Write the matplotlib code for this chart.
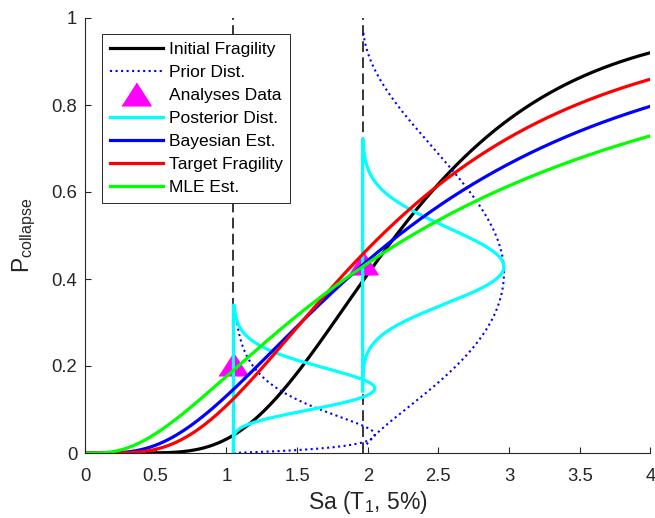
import math
import numpy as np
import matplotlib
matplotlib.use('Agg')
import matplotlib.pyplot as plt

plt.rcParams['font.family'] = ['Liberation Sans', 'DejaVu Sans']

# lognormal fragility curves (median Sa, dispersion)
frag_names = ['Initial Fragility', 'Bayesian Est.', 'Target Fragility', 'MLE Est.']
frag_median = [2.20, 2.217, 2.096, 2.31]
frag_beta = [0.425, 0.71, 0.60, 0.90]

# IM levels where analyses were run, and observed collapse fractions
im_levels = [1.05, 1.964]
data_frac = [0.205, 0.437]

# prior distribution of P at each IM level (mode, probit spread below/above, plotted range)
prior_mode = [0.043, 0.415]
prior_sd_lo = [0.60, 0.69]
prior_sd_hi = [0.44, 0.63]
prior_lo = [0.0, 0.02]
prior_hi = [0.30, 0.972]

# posterior distribution of P at each IM level
post_mode = [0.149, 0.428]
post_sd_lo = [0.22, 0.215]
post_sd_hi = [0.195, 0.225]
post_lo = [0.0, 0.143]
post_hi = [0.34, 0.722]

xticks = [0, 0.5, 1, 1.5, 2, 2.5, 3, 3.5, 4]
xticklabels = ['0', '0.5', '1', '1.5', '2', '2.5', '3', '3.5', '4']
yticks = [0, 0.2, 0.4, 0.6, 0.8, 1]
yticklabels = ['0', '0.2', '0.4', '0.6', '0.8', '1']

# standard normal cdf table, used both ways
ZG = np.linspace(-8, 8, 20001)
PG = 0.5 * (1 + np.array([math.erf(v / math.sqrt(2)) for v in ZG]))


def norm_cdf(z):
    return np.interp(z, ZG, PG)


def fragility(x, med, beta):
    return norm_cdf(np.log(x / med) / beta)


def sideways(im, mode, sd_lo, sd_hi, lo, hi):
    p = np.linspace(lo, hi, 800)
    z = np.interp(np.clip(p, 1e-12, 1 - 1e-12), PG, ZG)
    zm = np.interp(mode, PG, ZG)
    sd = np.where(z < zm, sd_lo, sd_hi)
    f = np.exp(-0.5 * ((z - zm) / sd) ** 2)
    return im + f, p


fig = plt.figure(figsize=(6.55, 5.18), dpi=100)
ax = fig.add_axes([85 / 655, 65 / 518, 565.4 / 655, 435 / 518])

x = np.linspace(0.001, 4, 800)
lw = 2.3

for im in im_levels:
    ax.plot([im, im], [0, 1], color='k', lw=1.1, dashes=(7, 3.5))

h_init, = ax.plot(x, fragility(x, frag_median[0], frag_beta[0]), color='k', lw=lw)

h_prior = None
for i, im in enumerate(im_levels):
    px, py = sideways(im, prior_mode[i], prior_sd_lo[i], prior_sd_hi[i], prior_lo[i], prior_hi[i])
    h_prior, = ax.plot(px, py, color='b', lw=1.5, ls=':')

tri = [(-1, -0.78), (1, -0.78), (0, 0.78)]
h_data, = ax.plot(im_levels, data_frac, ls='none', marker=tri, ms=21,
                  mfc=(1, 0, 1), mec=(1, 0, 1))

h_post = None
for i, im in enumerate(im_levels):
    px, py = sideways(im, post_mode[i], post_sd_lo[i], post_sd_hi[i], post_lo[i], post_hi[i])
    px = np.concatenate([px, [im, im]])
    py = np.concatenate([py, [post_hi[i], post_lo[i]]])
    h_post, = ax.plot(px, py, color=(0, 1, 1), lw=lw)

h_bay, = ax.plot(x, fragility(x, frag_median[1], frag_beta[1]), color='b', lw=lw)
h_tgt, = ax.plot(x, fragility(x, frag_median[2], frag_beta[2]), color='r', lw=lw)
h_mle, = ax.plot(x, fragility(x, frag_median[3], frag_beta[3]), color=(0, 1, 0), lw=lw)

ax.set_xlim(0, 4)
ax.set_ylim(0, 1)
ax.set_xticks(xticks)
ax.set_xticklabels(xticklabels)
ax.set_yticks(yticks)
ax.set_yticklabels(yticklabels)
ax.spines['top'].set_visible(False)
ax.spines['right'].set_visible(False)
for s in ['left', 'bottom']:
    ax.spines[s].set_color('0.15')
    ax.spines[s].set_linewidth(0.8)
ax.tick_params(direction='in', length=4.5, width=0.8, colors='0.15', labelsize=13.3)
ax.tick_params(axis='x', pad=11)
ax.tick_params(axis='y', pad=5.5)

ax.set_xlabel(r'Sa (T$\mathregular{_1}$, 5%)', fontsize=16.5, color='0.15', labelpad=3)
ax.set_ylabel(r'$\mathregular{P_{collapse}}$', fontsize=16.5, color='0.15', labelpad=10)

handles = [h_init, h_prior, h_data, h_post, h_bay, h_tgt, h_mle]
labels = ['Initial Fragility', 'Prior Dist.', 'Analyses Data', 'Posterior Dist.',
          'Bayesian Est.', 'Target Fragility', 'MLE Est.']
leg = ax.legend(handles, labels, loc='upper left', bbox_to_anchor=(0.030, 0.9625),
                borderaxespad=0, fontsize=12.5, handlelength=3.05, handletextpad=0.35,
                labelspacing=0.45, borderpad=0.45, fancybox=False, framealpha=1,
                edgecolor='0.15', numpoints=1)
leg.get_frame().set_linewidth(0.7)

fig.savefig('out.png', dpi=100)
